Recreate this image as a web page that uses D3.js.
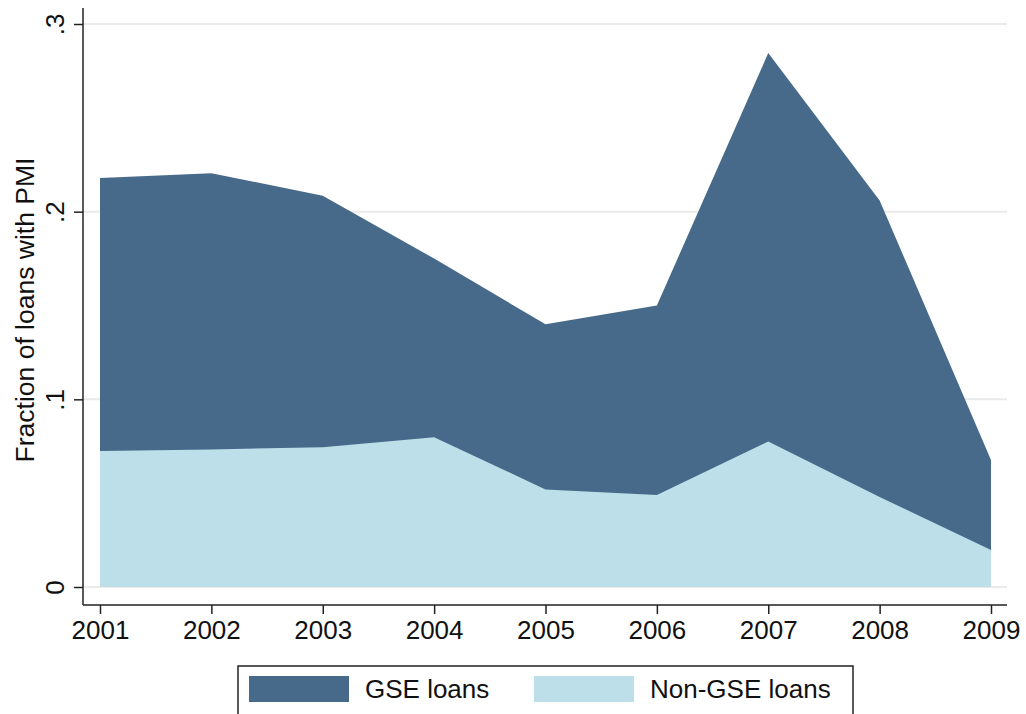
<!DOCTYPE html>
<html><head><meta charset="utf-8">
<script src="https://cdn.jsdelivr.net/npm/d3@7"></script>
<style>
html,body{margin:0;padding:0;background:#fff;}
svg{display:block;font-family:"Liberation Sans",Arial,sans-serif;}
</style></head>
<body>
<svg id="chart" width="1026" height="714"></svg>
<script>
const years = [2001, 2002, 2003, 2004, 2005, 2006, 2007, 2008, 2009];
const gseLoans = [0.218, 0.2205, 0.2085, 0.175, 0.140, 0.150, 0.2845, 0.206, 0.0677];
const nonGseLoans = [0.0725, 0.0733, 0.0745, 0.0798, 0.052, 0.049, 0.0775, 0.048, 0.0197];
const yTicks = [0, 0.1, 0.2, 0.3];
const yTickLabels = ["0", ".1", ".2", ".3"];
const seriesNames = ["GSE loans", "Non-GSE loans"];
const colors = ["#476a8b", "#bcdfe9"];

const svg = d3.select("#chart");
const x = d3.scaleLinear().domain([2001, 2009]).range([100, 991]);
const y = d3.scaleLinear().domain([0, 0.3]).range([587, 24]);
const axisX0 = 83, axisY0 = 605, plotRight = 1007, plotTop = 8;

// gridlines
svg.append("g").selectAll("line").data(yTicks).join("line")
  .attr("x1", axisX0).attr("x2", plotRight)
  .attr("y1", d => y(d)).attr("y2", d => y(d))
  .attr("stroke", "#eaeaea").attr("stroke-width", 2);

// areas
const area = vals => d3.area()
  .x((d, i) => x(years[i]))
  .y0(y(0))
  .y1(d => y(d))(vals);
svg.append("path").attr("d", area(gseLoans)).attr("fill", colors[0]);
svg.append("path").attr("d", area(nonGseLoans)).attr("fill", colors[1]);

// y axis
const yAxis = d3.axisLeft(y).tickValues(yTicks)
  .tickFormat((d, i) => yTickLabels[i]).tickSize(9).tickPadding(0);
const gy = svg.append("g").attr("transform", `translate(${axisX0},0)`).call(yAxis);
gy.select(".domain").attr("d", `M0,${plotTop}V${axisY0}`).attr("stroke", "#222").attr("stroke-width", 1.5);
gy.selectAll(".tick line").attr("stroke", "#222").attr("stroke-width", 1.5);
gy.selectAll(".tick text")
  .attr("font-size", 26).attr("fill", "#111")
  .attr("transform", "translate(-28,0) rotate(-90)")
  .attr("text-anchor", "middle").attr("dy", "0.35em").attr("x", 0);

// x axis
const xAxis = d3.axisBottom(x).tickValues(years).tickFormat(d3.format("d")).tickSize(9).tickPadding(7);
const gx = svg.append("g").attr("transform", `translate(0,${axisY0})`).call(xAxis);
gx.select(".domain").attr("d", `M${axisX0},0H${plotRight}`).attr("stroke", "#222").attr("stroke-width", 1.5);
gx.selectAll(".tick line").attr("stroke", "#222").attr("stroke-width", 1.5);
gx.selectAll(".tick text").attr("font-size", 26).attr("fill", "#111");

// y title
svg.append("text")
  .attr("transform", "translate(25,310) rotate(-90)")
  .attr("text-anchor", "middle").attr("dy", "0.35em")
  .attr("font-size", 26.5).attr("fill", "#111")
  .text("Fraction of loans with PMI");

// legend
const lg = svg.append("g");
lg.append("rect").attr("x", 238).attr("y", 666).attr("width", 615).attr("height", 50)
  .attr("fill", "#fff").attr("stroke", "#222").attr("stroke-width", 1.5);
const legX = [249, 534];
seriesNames.forEach((name, i) => {
  lg.append("rect").attr("x", legX[i]).attr("y", 676).attr("width", 100).attr("height", 26).attr("fill", colors[i]);
  lg.append("text").attr("x", legX[i] + 116).attr("y", 689).attr("dy", "0.35em")
    .attr("font-size", 26).attr("fill", "#111").text(name);
});
</script>
</body></html>
